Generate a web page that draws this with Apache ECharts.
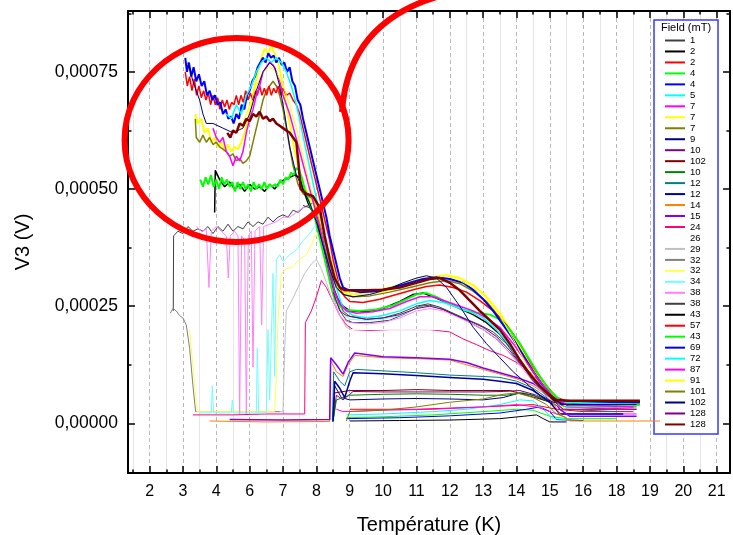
<!DOCTYPE html>
<html>
<head>
<meta charset="utf-8">
<script src="https://cdn.jsdelivr.net/npm/echarts@6/dist/echarts.min.js"></script>
<style>html,body{margin:0;padding:0;background:#fff}#chart{width:733px;height:535px}</style>
</head>
<body>
<div id="chart"></div>
<script>
// axis layout: tick positions and the (odd) labels printed under them
var tickPos = [2, 3, 4, 5, 6, 7, 8, 9, 10, 11, 12, 13, 14, 15, 16, 17, 18, 19];
var tickLabels = ['2', '3', '4', '6', '7', '8', '9', '10', '11', '12', '13', '14', '15', '16', '18', '19', '20', '21'];
var minorPos = [1.5, 2.5, 3.5, 4.5, 5.5, 6.5, 7.5, 8.5, 9.5, 10.5, 11.5, 12.5, 13.5, 14.5, 15.5, 16.5, 17.5, 18.5];
var yTickValues = [0, 0.00025, 0.0005, 0.00075];
var yTickLabels = ['0,00000', '0,00025', '0,00050', '0,00075'];
var yMinorPos = [0.000125, 0.000375, 0.000625, 0.000875];

// legend entries (field in mT) in the order of the original legend
var fieldLabels = ['1', '2', '2', '4', '4', '5', '7', '7', '7', '9', '10', '102', '10', '12', '12', '14', '15', '24',
    '26', '29', '32', '32', '34', '38', '38', '43', '57', '43', '69', '72', '87', '91', '101', '102', '128', '128'];
var fieldColors = ['#404040', '#000000', '#ff0000', '#00ff00', '#0000ff', '#00ffff', '#ff00ff', '#ffff00', '#808000',
    '#000080', '#800080', '#800000', '#008000', '#008080', '#0000a0', '#ff8000', '#8000ff', '#ff0080', '#ffffff',
    '#c0c0c0', '#808080', '#ffff50', '#70ffff', '#ff80ff', '#404040', '#000000', '#ff0000', '#00ff00', '#0000ff',
    '#00ffff', '#ff00ff', '#ffff00', '#808000', '#000080', '#800080', '#800000'];
var lineWidths = [1, 1, 1, 1, 1, 1, 1, 2, 1.5, 1, 1, 1, 1, 1, 1.5, 1, 1.5, 1, 1, 1, 1, 1, 1, 1, 1, 1.5, 1.5, 2, 2, 1.5, 1.5, 1, 1, 1, 1, 2.5];

// curves [temperature axis position, V3 in volts]
var d00 = [[2.71,0.00024],[2.72,0.00040],[2.85,0.00041],[3.0,0.000405],[3.15,0.00042],[3.3,0.00041],[3.45,0.000415],[3.6,0.00041],[3.75,0.00042],[3.9,0.000405],[4.05,0.00042],[4.2,0.00041],[4.35,0.000425],[4.5,0.00041],[4.65,0.00042],[4.8,0.000415],[4.95,0.00043],[5.1,0.00042],[5.25,0.00043],[5.4,0.000425],[5.55,0.00044],[5.7,0.00043],[5.85,0.00044],[6.0,0.000445],[6.15,0.00044],[6.3,0.000455],[6.45,0.00045],[6.6,0.00046],[6.75,0.000465],[6.9,0.00047],[7.0,0.00045],[7.15,0.0004],[7.3,0.00035],[7.45,0.0003],[7.6,0.00026],[7.75,0.000235],[7.9,0.00022],[8.1,0.000215],[8.6,0.000215],[9.2,0.00022],[9.7,0.000235],[10.1,0.00025],[10.4,0.000252],[10.8,0.000243],[11.2,0.00023],[11.6,0.000215],[12.0,0.0002],[12.4,0.00018],[12.8,0.00015],[13.2,0.00012],[13.6,0.00009],[14.0,0.00006],[14.3,0.000045],[15.0,0.00004],[16.0,0.00004]];
var d01 = [[8.0,0.000005],[9.5,0.000006],[11.0,0.000007],[12.5,0.00001],[13.2,0.000015],[13.6,0.000018],[13.8,0.00001],[14.0,0.000003],[14.5,0.000003]];
var d02 = [[8.0,0.00003],[10.0,0.00003],[12.0,0.000035],[13.5,0.00004],[14.2,0.00003],[15.0,0.000025],[16.5,0.000025]];
var d03 = [[7.9,0.000012],[9.0,0.000014],[10.5,0.000018],[12.0,0.000025],[13.0,0.00003],[13.5,0.000028],[14.0,0.000015],[14.5,0.00001],[16.0,0.00001]];
var d04 = [[7.9,0.00001],[9.5,0.000012],[11.0,0.000016],[12.5,0.000022],[13.3,0.00003],[13.7,0.000035],[14.0,0.000025],[14.2,0.000008],[15.0,0.000006]];
var d05 = [[7.9,0.000018],[9.0,0.00002],[10.5,0.000025],[11.5,0.00003],[12.5,0.00004],[13.1,0.00005],[13.5,0.000048],[13.8,0.00003],[14.1,0.00001],[14.5,0.000008]];
var d06 = [[7.6,0.00003],[7.8,0.000025],[9.0,0.000028],[10.5,0.00003],[12.0,0.000035],[13.0,0.00004],[13.6,0.000035],[14.2,0.00002],[15.5,0.00002],[16.6,0.00002]];
var d07 = [[3.37,0.00066],[3.45,0.00064],[3.55,0.00065],[3.65,0.00062],[3.75,0.00063],[3.85,0.0006],[3.95,0.00061],[4.05,0.00059],[4.15,0.0006],[4.25,0.00058],[4.35,0.000595],[4.45,0.00058],[4.55,0.00059],[4.65,0.000585],[4.75,0.0006],[4.85,0.00062],[4.95,0.00065],[5.05,0.00068],[5.15,0.00072],[5.25,0.00075],[5.35,0.00078],[5.45,0.0008],[5.55,0.00079],[5.65,0.000805],[5.75,0.00079],[5.85,0.00077],[5.95,0.00074],[6.05,0.0007],[6.15,0.00066],[6.3,0.0006],[6.45,0.00055],[6.6,0.00051],[6.75,0.00049],[6.9,0.00047],[7.05,0.00044],[7.2,0.0004],[7.35,0.00035],[7.5,0.00031],[7.65,0.00029],[7.8,0.00028],[8.1,0.000275],[8.6,0.00028],[9.2,0.00029],[9.8,0.000302],[10.4,0.000312],[10.9,0.000316],[11.3,0.00031],[11.7,0.000295],[12.1,0.00027],[12.5,0.000235],[12.9,0.00019],[13.3,0.00014],[13.7,0.000095],[14.1,0.00006],[14.5,0.00004],[15.5,0.000035]];
var d08 = [[3.37,0.00065],[3.4,0.00061],[3.5,0.0006],[3.6,0.000615],[3.7,0.0006],[3.8,0.00061],[3.9,0.000595],[4.0,0.0006],[4.1,0.00059],[4.2,0.000585],[4.3,0.00058],[4.4,0.00057],[4.5,0.000575],[4.6,0.00056],[4.7,0.000565],[4.8,0.000555],[4.9,0.00056],[5.0,0.00057],[5.1,0.0006],[5.2,0.00063],[5.3,0.00066],[5.4,0.00069],[5.5,0.00071],[5.6,0.00072],[5.7,0.00073],[5.8,0.00072],[5.9,0.0007],[6.0,0.00067],[6.1,0.00063],[6.2,0.00059],[6.3,0.00055],[6.45,0.00051],[6.6,0.00049],[6.75,0.000485],[6.9,0.00048],[7.0,0.00046],[7.15,0.00042],[7.3,0.00037],[7.45,0.00032],[7.6,0.00029],[7.8,0.000275],[8.1,0.00027],[8.6,0.000272],[9.2,0.00028],[9.8,0.00029],[10.4,0.0003],[10.9,0.000305],[11.3,0.000298],[11.7,0.000282],[12.1,0.00026],[12.5,0.000225],[12.9,0.00018],[13.3,0.000135],[13.7,0.00009],[14.1,0.000055],[14.5,0.00004],[16.0,0.000035]];
var d09 = [[7.5,0.000005],[7.55,0.00008],[7.75,0.000055],[8.0,0.00005],[9.0,0.000052],[10.0,0.000053],[11.0,0.000052],[12.0,0.00005],[12.6,0.000055],[13.1,0.000065],[13.5,0.00006],[13.8,0.00005],[14.2,0.00004],[14.5,0.00004],[16.6,0.000045]];
var d10 = [[7.5,0.000005],[7.6,0.00006],[7.8,0.00005],[8.1,0.000068],[9.0,0.000067],[10.0,0.000067],[11.0,0.000067],[12.0,0.000067],[12.6,0.000068],[13.1,0.00007],[13.6,0.00006],[14.0,0.000045],[14.5,0.000035],[16.0,0.00003]];
var d11 = [[7.5,0.000005],[7.55,0.000065],[8.0,0.00007],[9.0,0.00007],[10.0,0.000072],[11.0,0.00007],[12.0,0.00007],[12.8,0.00007],[13.3,0.00006],[13.8,0.00005],[14.3,0.000045],[16.7,0.000045]];
var d12 = [[7.5,0.000004],[7.6,0.00005],[8.0,0.00006],[9.0,0.000062],[10.0,0.000063],[11.0,0.000062],[12.0,0.00006],[12.7,0.00006],[13.2,0.000065],[13.7,0.000055],[14.1,0.00004],[14.5,0.000035],[16.6,0.000035]];
var d13 = [[7.48,0.000004],[7.52,0.00011],[7.7,0.00009],[7.85,0.00008],[8.0,0.00011],[8.2,0.000115],[9.0,0.000112],[10.0,0.000108],[11.0,0.000103],[12.0,0.0001],[12.5,0.000098],[13.0,0.00009],[13.5,0.000075],[14.0,0.00005],[14.4,0.00003],[16.0,0.000025]];
var d14 = [[7.5,0.000004],[7.55,0.00009],[7.7,0.000075],[7.85,0.000055],[8.0,0.00009],[8.1,0.000108],[9.0,0.000106],[10.0,0.000102],[11.0,0.000098],[12.0,0.000094],[12.5,0.00009],[13.0,0.000085],[13.5,0.00007],[14.0,0.000045],[14.3,0.00002],[16.2,0.00002]];
var d15 = [[3.8,0.000005],[5.5,0.000003],[7.4,0.000004],[7.42,0.000135],[7.6,0.00011],[7.8,0.0001],[7.95,0.000125],[8.15,0.000145],[9.0,0.00014],[10.0,0.000138],[11.0,0.000135],[11.5,0.000125],[12.0,0.000115],[12.5,0.000105],[13.0,0.000095],[13.5,0.00008],[14.0,0.000055],[14.3,0.00002],[14.6,0.000005],[17.3,0.000005]];
var d16 = [[4.4,0.000008],[6.0,0.000007],[7.4,0.000008],[7.43,0.00014],[7.6,0.000125],[7.8,0.000105],[7.95,0.00013],[8.15,0.00015],[9.0,0.000142],[10.0,0.00014],[11.0,0.000137],[11.5,0.00013],[12.0,0.000118],[12.5,0.000108],[13.0,0.000098],[13.5,0.000085],[14.0,0.00006],[14.3,0.00003],[14.6,0.000015],[16.6,0.000015]];
var d17 = [[3.3,0.000018],[4.5,0.000018],[5.5,0.00002],[6.65,0.00002],[6.67,0.000215],[6.85,0.00024],[7.0,0.00027],[7.15,0.000305],[7.3,0.00029],[7.5,0.00026],[7.7,0.00023],[7.9,0.00021],[8.1,0.0002],[8.6,0.000198],[9.2,0.0002],[9.8,0.0002],[10.4,0.0002],[11.0,0.000195],[11.4,0.00018],[11.8,0.000168],[12.2,0.000155],[12.6,0.000145],[13.0,0.00013],[13.4,0.00011],[13.8,0.00008],[14.2,0.00005],[14.6,0.000035],[16.6,0.00003]];
var d18 = [[8.0,0.0002],[12.0,0.0002]];
var d19 = [[5.2,0.000025],[6.0,0.000025],[6.05,0.00016],[6.1,0.00024],[6.25,0.00026],[6.45,0.00029],[6.65,0.00032],[6.85,0.00034],[7.0,0.00035],[7.15,0.00033],[7.3,0.0003],[7.5,0.00026],[7.7,0.00023],[7.9,0.000205],[8.05,0.0002]];
var d20 = [[2.62,0.000235],[2.7,0.000245],[2.8,0.00024],[2.9,0.00023],[3.0,0.000225],[3.1,0.00021],[3.2,0.00016],[3.3,0.00008],[3.38,0.000025],[4.0,0.000025],[5.0,0.000025],[5.9,0.000025]];
var d21 = [[3.2,0.0002],[3.3,0.00012],[3.42,0.000025],[4.5,0.000025],[5.75,0.000025],[5.8,0.0001],[5.85,0.00022],[5.95,0.00032],[6.1,0.00033],[6.3,0.000335],[6.5,0.00035],[6.7,0.00036],[6.85,0.00038],[6.95,0.0004],[7.1,0.0004],[7.25,0.00037],[7.4,0.00032],[7.55,0.00028],[7.7,0.00025],[7.85,0.000235],[8.0,0.00023]];
var d22 = [[3.5,0.000022],[3.85,0.000022],[3.88,0.00008],[3.92,0.000022],[4.45,0.000022],[4.48,0.00005],[4.52,0.000022],[5.2,0.000022],[5.23,0.00016],[5.27,0.000022],[5.5,0.000022],[5.55,0.0002],[5.6,0.00005],[5.7,0.00032],[5.75,0.0001],[5.8,0.00035],[5.9,0.00036],[6.0,0.000345],[6.2,0.00036],[6.4,0.00037],[6.6,0.00039],[6.8,0.000405],[6.95,0.00042],[7.1,0.00041],[7.25,0.00038],[7.4,0.00033],[7.55,0.00028],[7.7,0.00025],[7.85,0.00023],[8.0,0.000222],[8.5,0.00022],[9.0,0.000222],[9.5,0.00023],[10.0,0.000245],[10.4,0.00025],[10.8,0.000245],[11.2,0.000232],[11.6,0.00022],[12.0,0.000205],[12.4,0.000185],[12.8,0.000155],[13.2,0.00012],[13.6,0.000085],[14.0,0.00005],[14.4,0.000035],[16.0,0.000035]];
var d23 = [[3.4,0.00042],[3.55,0.00041],[3.7,0.000415],[3.78,0.00029],[3.85,0.00041],[4.0,0.00042],[4.15,0.00041],[4.3,0.0004],[4.36,0.00031],[4.42,0.0004],[4.55,0.00041],[4.65,0.0004],[4.7,0.00002],[4.76,0.0004],[4.85,0.00039],[4.9,0.00002],[4.96,0.0004],[5.05,0.00041],[5.1,0.00012],[5.16,0.00041],[5.3,0.00042],[5.36,0.00021],[5.42,0.00042],[5.6,0.000425],[5.8,0.00043],[6.0,0.00044],[6.2,0.00044],[6.4,0.00045],[6.6,0.00046],[6.8,0.000465],[6.95,0.00045],[7.1,0.0004],[7.25,0.00035],[7.4,0.0003],[7.55,0.00026],[7.7,0.00023],[7.85,0.00022],[8.0,0.000215],[8.5,0.000212],[9.0,0.000215],[9.5,0.000225],[10.0,0.00024],[10.4,0.000245],[10.8,0.00024],[11.2,0.000228],[11.6,0.000215],[12.0,0.0002],[12.4,0.00018],[12.8,0.00015],[13.2,0.000115],[13.6,0.00008],[14.0,0.00005],[14.4,0.00003],[16.0,0.00003]];
var d24 = [[6.6,0.000465],[6.8,0.00046],[7.0,0.00044],[7.2,0.00039],[7.4,0.00033],[7.6,0.00027],[7.8,0.00024],[8.0,0.000228],[8.5,0.000222],[9.0,0.000225],[9.5,0.000235],[10.0,0.00025],[10.35,0.000255],[10.7,0.000248],[11.1,0.000235],[11.5,0.000222],[11.9,0.00021],[12.3,0.000195],[12.7,0.00017],[13.1,0.00013],[13.5,0.00009],[13.9,0.00006],[14.3,0.000045],[16.7,0.000045]];
var d25 = [[3.95,0.00045],[3.97,0.00054],[4.1,0.00052],[4.25,0.000505],[4.4,0.000515],[4.55,0.0005],[4.7,0.00051],[4.85,0.000495],[5.0,0.00051],[5.15,0.0005],[5.3,0.000505],[5.45,0.000495],[5.6,0.00051],[5.75,0.0005],[5.9,0.000515],[6.05,0.00052],[6.2,0.000525],[6.35,0.00053],[6.5,0.000525],[6.6,0.0005],[6.75,0.00047],[6.9,0.00045],[7.05,0.00042],[7.2,0.00038],[7.35,0.00033],[7.5,0.00029],[7.65,0.000265],[7.8,0.00025],[8.0,0.00024],[8.5,0.000238],[9.0,0.000245],[9.5,0.00026],[9.9,0.000275],[10.2,0.000278],[10.5,0.00027],[10.9,0.000258],[11.3,0.000245],[11.7,0.000232],[12.1,0.000215],[12.5,0.00019],[12.9,0.000155],[13.3,0.000115],[13.7,0.00008],[14.1,0.00005],[14.5,0.00004],[16.7,0.00004]];
var d26 = [[3.07,0.00075],[3.13,0.00072],[3.2,0.00074],[3.27,0.00071],[3.34,0.000735],[3.41,0.0007],[3.48,0.00072],[3.55,0.000695],[3.62,0.00071],[3.69,0.00069],[3.76,0.000705],[3.83,0.00068],[3.9,0.0007],[3.97,0.00068],[4.04,0.000695],[4.11,0.00067],[4.18,0.00069],[4.25,0.000675],[4.32,0.00069],[4.39,0.00067],[4.46,0.000685],[4.53,0.00068],[4.6,0.0007],[4.67,0.00068],[4.74,0.0007],[4.81,0.000685],[4.88,0.00071],[4.95,0.00069],[5.02,0.000705],[5.09,0.00069],[5.16,0.00071],[5.23,0.0007],[5.3,0.00072],[5.37,0.0007],[5.44,0.000715],[5.51,0.0007],[5.58,0.00072],[5.65,0.0007],[5.72,0.000715],[5.79,0.000705],[5.86,0.00072],[5.93,0.0007],[6.0,0.000715],[6.1,0.0007],[6.2,0.000705],[6.3,0.00069],[6.4,0.00068],[6.5,0.00066],[6.6,0.00063],[6.7,0.0006],[6.8,0.00057],[6.9,0.00054],[7.0,0.00051],[7.1,0.00048],[7.2,0.00045],[7.3,0.00042],[7.4,0.00039],[7.5,0.00035],[7.6,0.00032],[7.7,0.00029],[7.85,0.00027],[8.0,0.00026],[8.4,0.000258],[8.9,0.000265],[9.4,0.000275],[9.9,0.000285],[10.3,0.000292],[10.7,0.000295],[11.1,0.00029],[11.5,0.00028],[11.9,0.000262],[12.3,0.00024],[12.7,0.00021],[13.1,0.00017],[13.5,0.00012],[13.9,0.00008],[14.2,0.000055],[14.6,0.000045],[16.7,0.000045]];
var d27 = [[3.52,0.00052],[3.6,0.000505],[3.68,0.000525],[3.76,0.00051],[3.84,0.00053],[3.92,0.000505],[4.0,0.00052],[4.08,0.0005],[4.16,0.000525],[4.24,0.00051],[4.32,0.00052],[4.4,0.000505],[4.48,0.000515],[4.56,0.000495],[4.64,0.000515],[4.72,0.0005],[4.8,0.000515],[4.88,0.0005],[4.96,0.00051],[5.04,0.000495],[5.12,0.000515],[5.2,0.0005],[5.28,0.00051],[5.36,0.0005],[5.44,0.000515],[5.52,0.0005],[5.6,0.00051],[5.68,0.000505],[5.76,0.00051],[5.84,0.000505],[5.92,0.00052],[6.0,0.00051],[6.08,0.000525],[6.16,0.00052],[6.24,0.000535],[6.32,0.00053],[6.4,0.000545],[6.48,0.00054],[6.56,0.000525],[6.65,0.0005],[6.75,0.00048],[6.85,0.00046],[6.95,0.00044],[7.05,0.00041],[7.15,0.00038],[7.25,0.00035],[7.35,0.00032],[7.45,0.00029],[7.55,0.000265],[7.7,0.00025],[7.9,0.000242],[8.3,0.00024],[8.8,0.000243],[9.3,0.000252],[9.7,0.000265],[10.0,0.000275],[10.3,0.000278],[10.6,0.00027],[11.0,0.000255],[11.4,0.000242],[11.8,0.000236],[12.2,0.000232],[12.5,0.000222],[12.8,0.0002],[13.1,0.00017],[13.4,0.000135],[13.7,0.0001],[14.0,0.00007],[14.3,0.00005],[14.7,0.00004],[16.7,0.00004]];
var d28 = [[3.07,0.00078],[3.12,0.00075],[3.18,0.00077],[3.25,0.00074],[3.32,0.00076],[3.4,0.00073],[3.48,0.000745],[3.56,0.00072],[3.64,0.00073],[3.72,0.0007],[3.8,0.00071],[3.88,0.00069],[3.96,0.0007],[4.04,0.00068],[4.12,0.000685],[4.2,0.00066],[4.28,0.00067],[4.36,0.00065],[4.44,0.000655],[4.52,0.00064],[4.6,0.00066],[4.68,0.00065],[4.76,0.00068],[4.84,0.00067],[4.92,0.0007],[5.0,0.00071],[5.08,0.00073],[5.16,0.00074],[5.24,0.00076],[5.32,0.00077],[5.4,0.00078],[5.48,0.00077],[5.56,0.00079],[5.64,0.00078],[5.72,0.000785],[5.8,0.00077],[5.88,0.00078],[5.96,0.000765],[6.04,0.00077],[6.12,0.00075],[6.2,0.00076],[6.28,0.00073],[6.36,0.00072],[6.44,0.00069],[6.52,0.00068],[6.6,0.00065],[6.7,0.00062],[6.8,0.00059],[6.9,0.00056],[7.0,0.00053],[7.1,0.0005],[7.2,0.00047],[7.3,0.00044],[7.4,0.0004],[7.5,0.00037],[7.6,0.00034],[7.7,0.00031],[7.8,0.00029],[7.95,0.000285],[8.3,0.00028],[8.8,0.000282],[9.3,0.00029],[9.8,0.0003],[10.2,0.000308],[10.6,0.000312],[11.0,0.000308],[11.4,0.0003],[11.7,0.000285],[12.0,0.000265],[12.3,0.00024],[12.6,0.00021],[12.9,0.00018],[13.2,0.000145],[13.5,0.00011],[13.8,0.00008],[14.1,0.000055],[14.4,0.000045],[15.5,0.000045],[16.7,0.000045]];
var d29 = [[4.3,0.00066],[4.45,0.00065],[4.6,0.00068],[4.75,0.00066],[4.9,0.0007],[5.05,0.00072],[5.2,0.00075],[5.35,0.00077],[5.5,0.00078],[5.65,0.00077],[5.8,0.00078],[5.95,0.00077],[6.1,0.00075],[6.25,0.00072],[6.4,0.00068],[6.55,0.00063],[6.7,0.00058],[6.85,0.00053],[7.0,0.00048],[7.15,0.00043],[7.3,0.00038],[7.45,0.00033],[7.6,0.00029],[7.75,0.000255],[7.9,0.00024],[8.1,0.00023],[8.5,0.000225],[9.0,0.00023],[9.5,0.00024],[10.0,0.000255],[10.4,0.000262],[10.8,0.000258],[11.2,0.000248],[11.6,0.000238],[12.0,0.000225],[12.4,0.0002],[12.8,0.000165],[13.2,0.000125],[13.6,0.00009],[14.0,0.00006],[14.4,0.000045],[16.5,0.00004]];
var d30 = [[3.9,0.00063],[4.0,0.00061],[4.1,0.0006],[4.2,0.00061],[4.3,0.00058],[4.4,0.00057],[4.5,0.00055],[4.6,0.00057],[4.7,0.00056],[4.8,0.00058],[4.9,0.00062],[5.0,0.00065],[5.1,0.00067],[5.2,0.0007],[5.3,0.00072],[5.4,0.00075],[5.5,0.00076],[5.6,0.00077],[5.7,0.000765],[5.8,0.00075],[5.9,0.00073],[6.0,0.0007],[6.1,0.00068],[6.2,0.00066],[6.35,0.00062],[6.5,0.00058],[6.65,0.00054],[6.8,0.0005],[6.95,0.00046],[7.1,0.00042],[7.25,0.00037],[7.4,0.00032],[7.55,0.00028],[7.7,0.000255],[7.9,0.00024],[8.2,0.000235],[8.7,0.000238],[9.2,0.000245],[9.7,0.00026],[10.1,0.00027],[10.5,0.00027],[10.9,0.00026],[11.3,0.00025],[11.7,0.00024],[12.1,0.000225],[12.5,0.000205],[12.9,0.00017],[13.3,0.00013],[13.7,0.00009],[14.1,0.000055],[14.5,0.00004],[16.5,0.000035]];
var d31 = [[4.6,0.00062],[4.8,0.00064],[5.0,0.00068],[5.2,0.00072],[5.4,0.00075],[5.6,0.00076],[5.8,0.00075],[6.0,0.00072],[6.2,0.00068],[6.4,0.00063],[6.6,0.00057],[6.8,0.00051],[7.0,0.00046],[7.2,0.00041],[7.4,0.00036],[7.6,0.00031],[7.8,0.00028],[8.0,0.000275],[8.5,0.000275],[9.0,0.00028],[9.5,0.00029],[10.0,0.0003],[10.5,0.00031],[10.9,0.000315],[11.3,0.000305],[11.7,0.00029],[12.1,0.000265],[12.5,0.00023],[12.9,0.00018],[13.3,0.000125],[13.7,0.00008],[14.1,0.000045],[14.5,0.00003]];
var d32 = [[7.9,0.000005],[8.0,0.000025],[9.0,0.000028],[10.0,0.000035],[11.0,0.000045],[12.0,0.000052],[12.6,0.000062],[13.0,0.000065],[13.5,0.000055],[13.9,0.00004],[14.2,0.00002],[14.5,0.000012]];
var d33 = [[3.15,0.00077],[3.3,0.00073],[3.5,0.00069],[3.6,0.00066],[3.7,0.00064],[3.9,0.00064],[4.2,0.00063],[4.5,0.00062],[4.8,0.00063],[5.0,0.00066],[5.2,0.00071],[5.4,0.00075],[5.6,0.00077],[5.75,0.00076],[5.9,0.00072],[6.05,0.00066],[6.2,0.00059],[6.4,0.00053],[6.6,0.0005],[6.8,0.00047],[7.0,0.00043],[7.2,0.00038],[7.4,0.00033],[7.6,0.00029],[7.8,0.000275],[8.1,0.00027],[8.6,0.000275],[9.1,0.000285],[9.6,0.0003],[10.0,0.00031],[10.3,0.000315],[10.6,0.00031],[10.9,0.00029],[11.3,0.00025],[11.7,0.000205],[12.1,0.00017],[12.5,0.00014],[12.9,0.00011],[13.3,0.000085],[13.7,0.00006],[14.1,0.000045],[14.5,0.00004],[16.6,0.00004]];
var d34 = [[7.5,0.00028],[7.7,0.00024],[7.9,0.00023],[8.5,0.000222],[9.0,0.000225],[9.5,0.000232],[10.0,0.000245],[10.4,0.00025],[10.8,0.000243],[11.2,0.00023],[11.6,0.000218],[12.0,0.000205],[12.4,0.000185],[12.8,0.000155],[13.2,0.00012],[13.6,0.000085],[14.0,0.000055],[14.4,0.00003],[16.6,0.00003]];
var d35 = [[4.33,0.00062],[4.42,0.00061],[4.5,0.000625],[4.6,0.00062],[4.7,0.00064],[4.8,0.000635],[4.9,0.00065],[5.0,0.000645],[5.1,0.00066],[5.2,0.000655],[5.3,0.000665],[5.4,0.00065],[5.5,0.000655],[5.6,0.000645],[5.7,0.00065],[5.8,0.00064],[5.9,0.000635],[6.0,0.00063],[6.1,0.000625],[6.2,0.00062],[6.3,0.00061],[6.4,0.0006],[6.47,0.00055],[6.53,0.0005],[6.7,0.00049],[6.9,0.000485],[7.1,0.00046],[7.25,0.0004],[7.4,0.00035],[7.55,0.00031],[7.7,0.00029],[7.85,0.000284],[8.5,0.000284],[9.0,0.000285],[9.5,0.00029],[10.0,0.0003],[10.4,0.000308],[10.7,0.00031],[11.0,0.0003],[11.3,0.000284],[11.6,0.000262],[11.9,0.00024],[12.2,0.00022],[12.5,0.0002],[12.8,0.00017],[13.1,0.000135],[13.4,0.000105],[13.7,0.00008],[14.0,0.00006],[14.2,0.00005],[14.6,0.000048],[16.7,0.000048]];

var fieldData = [d00, d01, d02, d03, d04, d05, d06, d07, d08, d09, d10, d11, d12, d13, d14, d15, d16, d17,
    d18, d19, d20, d21, d22, d23, d24, d25, d26, d27, d28, d29, d30, d31, d32, d33, d34, d35];

var FONT = 'Liberation Sans, Arial, sans-serif';
var xMin = 1.353, xMax = 19.4;
var yMin = -0.000106, yMax = 0.00088;

var chart = echarts.init(document.getElementById('chart'));

var series = fieldData.map(function (d, i) {
    return {
        name: 'f' + i,
        type: 'line',
        data: d,
        symbol: 'none',
        showSymbol: false,
        color: fieldColors[i],
        lineStyle: { width: lineWidths[i] },
        animation: false,
        silent: true
    };
});

function xAxisOpt(pos, ticks, len, extra) {
    var o = {
        type: 'value', position: pos, min: xMin, max: xMax,
        axisLine: { show: len > 5, onZero: false, lineStyle: { color: '#000', width: 2 } },
        axisTick: { inside: true, length: len, customValues: ticks, lineStyle: { color: '#000', width: 1.5 } },
        axisLabel: { show: false },
        splitLine: { show: false }
    };
    return Object.assign(o, extra || {});
}
function yAxisOpt(pos, ticks, len, extra) {
    var o = {
        type: 'value', position: pos, min: yMin, max: yMax,
        axisLine: { show: len > 5, onZero: false, lineStyle: { color: '#000', width: 2 } },
        axisTick: { inside: true, length: len, customValues: ticks, lineStyle: { color: '#000', width: 1.5 } },
        axisLabel: { show: false },
        splitLine: { show: false }
    };
    return Object.assign(o, extra || {});
}

var option = {
    backgroundColor: '#fff',
    animation: false,
    textStyle: { fontFamily: FONT },
    grid: { left: 128, right: 3, top: 11, bottom: 62, outerBoundsMode: 'none' },
    xAxis: [
        xAxisOpt('bottom', tickPos, 7, {
            name: 'Température (K)', nameLocation: 'middle', nameGap: 42,
            nameTextStyle: { fontSize: 20, color: '#000', fontFamily: FONT },
            axisLabel: {
                show: true, customValues: tickPos, color: '#000', fontSize: 16, fontFamily: FONT, margin: 11,
                formatter: function (v) { return tickLabels[Math.round(v) - 2]; }
            },
            splitLine: { show: true, lineStyle: { color: '#b8b8b8', type: [4, 3], width: 1 } }
        }),
        xAxisOpt('bottom', minorPos, 3.5, {
            splitLine: { show: true, lineStyle: { color: '#e6e6e6', width: 1 } }
        }),
        xAxisOpt('top', tickPos, 7),
        xAxisOpt('top', minorPos, 3.5)
    ],
    yAxis: [
        yAxisOpt('left', yTickValues, 7, {
            name: 'V3 (V)', nameLocation: 'middle', nameGap: 95,
            nameTextStyle: { fontSize: 20, color: '#000', fontFamily: FONT },
            axisLabel: {
                show: true, customValues: yTickValues, color: '#000', fontSize: 17.5, fontFamily: FONT, margin: 10,
                formatter: function (v) {
                    var best = 0;
                    for (var k = 1; k < yTickValues.length; k++) {
                        if (Math.abs(yTickValues[k] - v) < Math.abs(yTickValues[best] - v)) best = k;
                    }
                    return yTickLabels[best];
                }
            }
        }),
        yAxisOpt('left', yMinorPos, 3.5),
        yAxisOpt('right', yTickValues, 7),
        yAxisOpt('right', yMinorPos, 3.5)
    ],
    legend: {
        orient: 'vertical',
        left: 665, top: 35.5,
        padding: 0,
        icon: 'rect',
        itemWidth: 20, itemHeight: 2,
        itemGap: 0.97,
        selectedMode: false,
        textStyle: { fontSize: 9.5, lineHeight: 9, color: '#000', fontFamily: FONT },
        data: fieldData.map(function (d, i) { return 'f' + i; }),
        formatter: function (name) { return fieldLabels[+name.slice(1)]; }
    },
    graphic: [
        { type: 'rect', z: 3, shape: { x: 654, y: 20, width: 64, height: 414 },
          style: { fill: '#fff', stroke: '#3a3aff', lineWidth: 1.5 } },
        { type: 'text', z: 5, x: 686, y: 28,
          style: { text: 'Field (mT)', fontSize: 11, fontFamily: FONT, fill: '#000', align: 'center', verticalAlign: 'middle' } },
        { type: 'ellipse', z: 20, shape: { cx: 236.6, cy: 140, rx: 112, ry: 102 },
          style: { fill: 'none', stroke: '#ff0000', lineWidth: 6 } },
        { type: 'bezierCurve', z: 20, shape: { x1: 342, y1: 112, cpx1: 348, cpy1: 22, x2: 440, y2: -4 },
          style: { fill: 'none', stroke: '#ff0000', lineWidth: 6 } }
    ],
    series: series
};

chart.setOption(option);
</script>
</body>
</html>
